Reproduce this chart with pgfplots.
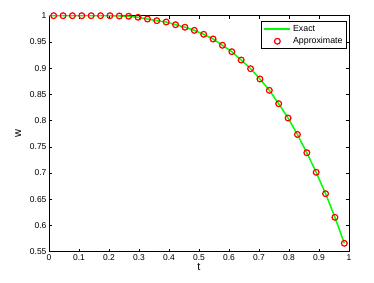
\documentclass[border=0pt]{standalone}
\usepackage{pgfplots}
\pgfplotsset{compat=1.18}
\usepackage{fontspec}
\setmainfont{Liberation Sans}
\definecolor{exactgreen}{rgb}{0,1,0}
\definecolor{approxred}{rgb}{1,0,0}
\begin{document}
\begin{tikzpicture}[x=1pt,y=1pt]
\useasboundingbox (-49,-30.3) rectangle (325,251.7);
\begin{axis}[at={(0,0)}, anchor=south west, scale only axis, width=300pt, height=236pt,
  xmin=0, xmax=1, ymin=0.55, ymax=1,
  xtick={0,0.1,0.2,0.3,0.4,0.5,0.6,0.7,0.8,0.9,1},
  ytick={0.55,0.6,0.65,0.7,0.75,0.8,0.85,0.9,0.95,1},
  tick align=inside, major tick length=3pt,
  tick style={black, line width=0.6pt},
  axis line style={line width=0.9pt},
  ticklabel style={font=\fontsize{8.5}{10}\selectfont},
  xticklabel style={yshift=1pt},
  yticklabel style={xshift=1pt},
  /pgf/number format/assume math mode=true,
  xlabel={t}, ylabel={w},
  label style={font=\fontsize{11}{12}\selectfont},
  xlabel style={yshift=4pt},
  ylabel style={yshift=2pt},
  legend style={at={(0.993,0.976)}, anchor=north east, draw=black, line width=0.8pt,
    font=\fontsize{8.8}{10}\selectfont, inner xsep=2pt, inner ysep=1.5pt, row sep=0.5pt},
  legend cell align=left,
  legend image code/.code={\draw[mark repeat=2,mark phase=2,#1] plot coordinates {(0pt,0pt)(13pt,0pt)(26pt,0pt)};},
]
\addplot[draw=exactgreen, color=exactgreen, line width=1.5pt, no marks] coordinates {
(0,1) (0.0156,1.0) (0.0469,1.0) (0.0781,1.0) (0.1094,1.0) (0.1406,1.0) (0.1719,1.0)
(0.2031,1.0) (0.2344,0.9995) (0.2656,0.999) (0.2969,0.997) (0.3281,0.9937) (0.3594,0.9905)
(0.3906,0.988) (0.4219,0.9828) (0.4531,0.978) (0.4844,0.972) (0.5156,0.9645) (0.5469,0.9556)
(0.5781,0.9436) (0.6094,0.9314) (0.6406,0.9155) (0.6719,0.899) (0.7031,0.8793) (0.7344,0.8577)
(0.7656,0.8322) (0.7969,0.8049) (0.8281,0.7735) (0.8594,0.7387) (0.8906,0.7014) (0.9219,0.6606)
(0.9531,0.6156) (0.9844,0.566)
};
\addlegendentry{Exact}
\addplot[only marks, mark=o, mark size=2.9pt, color=approxred, line width=1.2pt] coordinates {
(0.0156,1.0) (0.0469,1.0) (0.0781,1.0) (0.1094,1.0) (0.1406,1.0) (0.1719,1.0)
(0.2031,1.0) (0.2344,0.9995) (0.2656,0.999) (0.2969,0.997) (0.3281,0.9937) (0.3594,0.9905)
(0.3906,0.988) (0.4219,0.9828) (0.4531,0.978) (0.4844,0.972) (0.5156,0.9645) (0.5469,0.9556)
(0.5781,0.9436) (0.6094,0.9314) (0.6406,0.9155) (0.6719,0.899) (0.7031,0.8793) (0.7344,0.8577)
(0.7656,0.8322) (0.7969,0.8049) (0.8281,0.7735) (0.8594,0.7387) (0.8906,0.7014) (0.9219,0.6606)
(0.9531,0.6156) (0.9844,0.566)
};
\addlegendentry{Approximate}
\end{axis}
\end{tikzpicture}
\end{document}
